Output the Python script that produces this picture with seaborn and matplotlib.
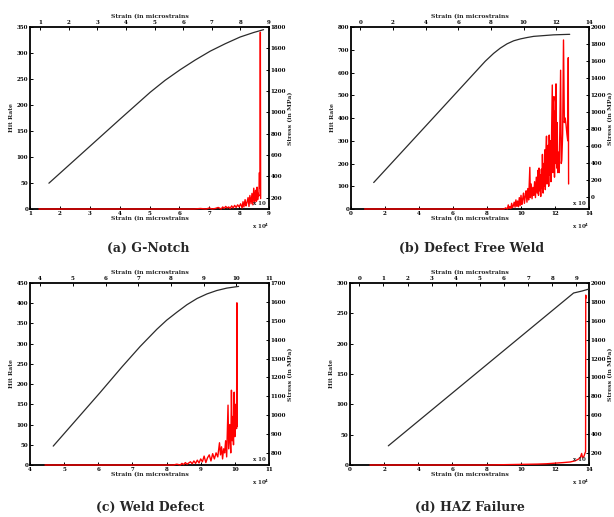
import matplotlib
matplotlib.use("Agg")
import matplotlib.pyplot as plt
import seaborn as sns

sns.set_style("ticks")
plt.rcParams['font.family'] = ['DejaVu Serif']
plt.rcParams['font.weight'] = 'bold'
plt.rcParams['axes.labelweight'] = 'bold'
plt.rcParams['mathtext.default'] = 'bf'

# ---------------- data ----------------
# (a) G-Notch : hit rate vs strain (bottom/left axes)
a_hit_x = [1.30, 6.50, 6.70, 6.90, 7.00, 7.10, 7.20, 7.30, 7.40, 7.45,
           7.50, 7.55, 7.60, 7.65, 7.70, 7.75, 7.80, 7.85, 7.90, 7.95,
           8.00, 8.05, 8.10, 8.13, 8.16, 8.20, 8.23, 8.26, 8.30, 8.33,
           8.36, 8.40, 8.43, 8.46, 8.49, 8.52, 8.55, 8.58, 8.60, 8.62,
           8.64, 8.66, 8.68, 8.69, 8.70, 8.71, 8.72]
a_hit_y = [0, 0, 1, 0, 2, 0, 1, 3, 0, 4,
           1, 5, 2, 4, 1, 6, 2, 7, 3, 8,
           4, 10, 2, 14, 4, 18, 6, 12, 22, 5,
           26, 10, 30, 8, 40, 12, 36, 15, 42, 18,
           30, 25, 70, 40, 60, 340, 20]
# (a) stress vs strain (top/right axes)
a_str_x = [1.31, 2.75, 3.80, 4.85, 5.37, 5.90, 6.42, 6.95, 7.47, 7.99, 8.46, 8.81]
a_str_y = [335, 683, 937, 1188, 1300, 1400, 1490, 1574, 1643, 1706, 1748, 1775]

# (b) Defect Free Weld
b_hit_x = [0.80, 9.00, 9.10, 9.20, 9.25, 9.30, 9.35, 9.40, 9.45, 9.50,
           9.55, 9.60, 9.65, 9.70, 9.75, 9.80, 9.85, 9.90, 9.95, 10.00,
           10.05, 10.10, 10.15, 10.20, 10.25, 10.30, 10.35, 10.40, 10.45, 10.52,
           10.55, 10.60, 10.65, 10.70, 10.75, 10.80, 10.85, 10.90, 10.95, 11.00,
           11.03, 11.06, 11.10, 11.13, 11.16, 11.20, 11.23, 11.26, 11.30, 11.33,
           11.36, 11.40, 11.43, 11.46, 11.50, 11.53, 11.56, 11.60, 11.63, 11.66,
           11.70, 11.73, 11.76, 11.84, 11.87, 11.90, 11.94, 11.97, 12.00, 12.03,
           12.06, 12.10, 12.13, 12.16, 12.20, 12.25, 12.33, 12.37, 12.40, 12.45,
           12.50, 12.55, 12.60, 12.65, 12.70, 12.75, 12.78, 12.80]
b_hit_y = [0, 0, 5, 0, 18, 3, 10, 2, 25, 6,
           15, 30, 8, 40, 12, 35, 10, 50, 15, 60,
           20, 45, 70, 25, 55, 80, 30, 90, 40, 183,
           50, 110, 45, 95, 60, 120, 50, 140, 70, 170,
           60, 180, 80, 150, 55, 175, 90, 240, 70, 200,
           100, 260, 85, 230, 320, 110, 200, 280, 100, 325,
           150, 300, 120, 545, 160, 470, 494, 140, 430, 200,
           550, 180, 380, 160, 250, 160, 610, 200, 215, 330,
           743, 380, 400, 370, 330, 300, 665, 110]
b_str_x = [0.82, 4.00, 7.65, 8.16, 8.57, 8.98, 9.39, 9.80, 10.20, 10.61, 11.84, 12.82]
b_str_y = [173, 836, 1598, 1690, 1752, 1802, 1838, 1860, 1876, 1890, 1908, 1914]

# (c) Weld Defect
c_hit_x = [4.44, 8.20, 8.30, 8.40, 8.45, 8.50, 8.55, 8.60, 8.65, 8.70,
           8.75, 8.80, 8.85, 8.90, 8.95, 9.00, 9.05, 9.10, 9.15, 9.20,
           9.25, 9.30, 9.35, 9.40, 9.45, 9.50, 9.55, 9.58, 9.61, 9.64,
           9.67, 9.70, 9.73, 9.76, 9.80, 9.82, 9.85, 9.88, 9.90, 9.92,
           9.94, 9.96, 9.98, 10.00, 10.02, 10.04, 10.05, 10.06, 10.07]
c_hit_y = [0, 0, 2, 0, 4, 1, 6, 2, 5, 8,
           3, 10, 4, 12, 5, 15, 8, 22, 6, 18,
           25, 10, 28, 15, 30, 20, 55, 25, 45, 15,
           40, 30, 60, 20, 148, 40, 100, 30, 185, 60,
           120, 50, 180, 70, 150, 95, 90, 401, 95]
c_str_x = [4.40, 5.83, 6.50, 7.06, 7.57, 7.87, 8.18, 8.49, 8.80, 9.10, 9.40, 9.71, 10.07]
c_str_y = [836, 1119, 1255, 1364, 1455, 1503, 1545, 1585, 1618, 1642, 1660, 1673, 1682]

# (d) HAZ Failure
d_hit_x = [1.17, 8.0, 9.0, 10.0, 11.0, 11.5, 12.0, 12.5, 12.9, 13.2,
           13.4, 13.5, 13.57, 13.62, 13.70, 13.77, 13.80, 13.81, 13.82]
d_hit_y = [0, 0, 0.5, 1, 1.5, 2, 3, 4, 5, 7,
           10, 13, 19, 12, 14, 20, 22, 280, 275]
d_str_x = [1.20, 8.89, 9.24, 9.53]
d_str_y = [276, 1894, 1915, 1936]

# tick values
a_bottom_ticks = [1, 2, 3, 4, 5, 6, 7, 8, 9]
a_left_ticks = [0, 50, 100, 150, 200, 250, 300, 350]
a_top_ticks = [1, 2, 3, 4, 5, 6, 7, 8, 9]
a_right_ticks = [200, 400, 600, 800, 1000, 1200, 1400, 1600, 1800]

b_bottom_ticks = [0, 2, 4, 6, 8, 10, 12, 14]
b_left_ticks = [0, 100, 200, 300, 400, 500, 600, 700, 800]
b_top_ticks = [0, 2, 4, 6, 8, 10, 12, 14]
b_right_ticks = [0, 200, 400, 600, 800, 1000, 1200, 1400, 1600, 1800, 2000]

c_bottom_ticks = [4, 5, 6, 7, 8, 9, 10, 11]
c_left_ticks = [0, 50, 100, 150, 200, 250, 300, 350, 400, 450]
c_top_ticks = [4, 5, 6, 7, 8, 9, 10, 11]
c_right_ticks = [800, 900, 1000, 1100, 1200, 1300, 1400, 1500, 1600, 1700]

d_bottom_ticks = [0, 2, 4, 6, 8, 10, 12, 14]
d_left_ticks = [0, 50, 100, 150, 200, 250, 300]
d_top_ticks = [0, 1, 2, 3, 4, 5, 6, 7, 8, 9]
d_right_ticks = [200, 400, 600, 800, 1000, 1200, 1400, 1600, 1800, 2000]

captions = ["(a) G-Notch", "(b) Defect Free Weld", "(c) Weld Defect", "(d) HAZ Failure"]
strain_label = "Strain (in microstrains"
hit_label = "Hit Rate"
stress_label = "Stress (in MPa)"

# ---------------- figure ----------------
W, H = 614, 517
fig = plt.figure(figsize=(W / 100, H / 100), dpi=100)


def rect(l, r, t, b):
    return [l / W, 1 - b / H, (r - l) / W, (b - t) / H]


panels = [
    dict(rect=rect(30, 269, 27, 209), hx=a_hit_x, hy=a_hit_y, sx=a_str_x, sy=a_str_y,
         bx=(1, 9), bt=a_bottom_ticks, ly=(0, 350), lt=a_left_ticks,
         tx=(0.65, 9), tt=a_top_ticks, ry=(93, 1800), rt=a_right_ticks,
         cap=captions[0], cx=148, cy=248),
    dict(rect=rect(351, 589, 27, 209), hx=b_hit_x, hy=b_hit_y, sx=b_str_x, sy=b_str_y,
         bx=(0, 14), bt=b_bottom_ticks, ly=(0, 800), lt=b_left_ticks,
         tx=(-0.57, 14), tt=b_top_ticks, ry=(-138, 2000), rt=b_right_ticks,
         cap=captions[1], cx=472, cy=248),
    dict(rect=rect(30, 269, 283, 465), hx=c_hit_x, hy=c_hit_y, sx=c_str_x, sy=c_str_y,
         bx=(4, 11), bt=c_bottom_ticks, ly=(0, 450), lt=c_left_ticks,
         tx=(3.69, 11), tt=c_top_ticks, ry=(736, 1700), rt=c_right_ticks,
         cap=captions[2], cx=150, cy=507),
    dict(rect=rect(350, 589, 283, 465), hx=d_hit_x, hy=d_hit_y, sx=d_str_x, sy=d_str_y,
         bx=(0, 14), bt=d_bottom_ticks, ly=(0, 300), lt=d_left_ticks,
         tx=(-0.39, 9.53), tt=d_top_ticks, ry=(73, 2000), rt=d_right_ticks,
         cap=captions[3], cx=470, cy=507),
]

TFS = 4.0
LFS = 4.4

for p in panels:
    ax = fig.add_axes(p['rect'])
    ax2 = fig.add_axes(p['rect'], frameon=False)
    ax2.patch.set_visible(False)
    ax.set_facecolor('white')

    sns.lineplot(x=p['hx'], y=p['hy'], ax=ax, color='#ff0000', linewidth=1.0,
                 sort=False, estimator=None, clip_on=False, zorder=3)
    sns.lineplot(x=p['sx'], y=p['sy'], ax=ax2, color='#2b2b2b', linewidth=0.9,
                 sort=False, estimator=None)

    ax.set_xlim(*p['bx'])
    ax.set_ylim(*p['ly'])
    ax.set_xticks(p['bt'])
    ax.set_yticks(p['lt'])
    ax2.set_xlim(*p['tx'])
    ax2.set_ylim(*p['ry'])
    ax2.set_xticks(p['tt'])
    ax2.set_yticks(p['rt'])

    ax2.xaxis.tick_top()
    ax2.xaxis.set_label_position('top')
    ax2.yaxis.tick_right()
    ax2.yaxis.set_label_position('right')

    for s in ax.spines.values():
        s.set_visible(True)
        s.set_linewidth(1.3)
        s.set_color('black')

    for a in (ax, ax2):
        a.tick_params(direction='in', length=2.5, width=0.7, labelsize=TFS, pad=1.2,
                      colors='black')
        for lab in a.get_xticklabels() + a.get_yticklabels():
            lab.set_fontweight('bold')

    ax.set_xlabel(strain_label, fontsize=LFS, labelpad=0.5)
    ax.set_ylabel(hit_label, fontsize=LFS, labelpad=2)
    ax2.set_xlabel(strain_label, fontsize=LFS, labelpad=1.5)
    ax2.set_ylabel(stress_label, fontsize=LFS, labelpad=1.5)

    ax.text(0.985, 0.015, "x 10", transform=ax.transAxes, fontsize=TFS,
            ha='right', va='bottom', fontweight='bold')
    ax.text(1.0, -0.07, r"x 10$^4$", transform=ax.transAxes, fontsize=TFS,
            ha='right', va='top', fontweight='bold')

    fig.text(p['cx'] / W, 1 - p['cy'] / H, p['cap'], fontsize=9, fontweight='bold',
             ha='center', va='center', family='DejaVu Serif')

fig.savefig("out.png", dpi=100, facecolor='white')
